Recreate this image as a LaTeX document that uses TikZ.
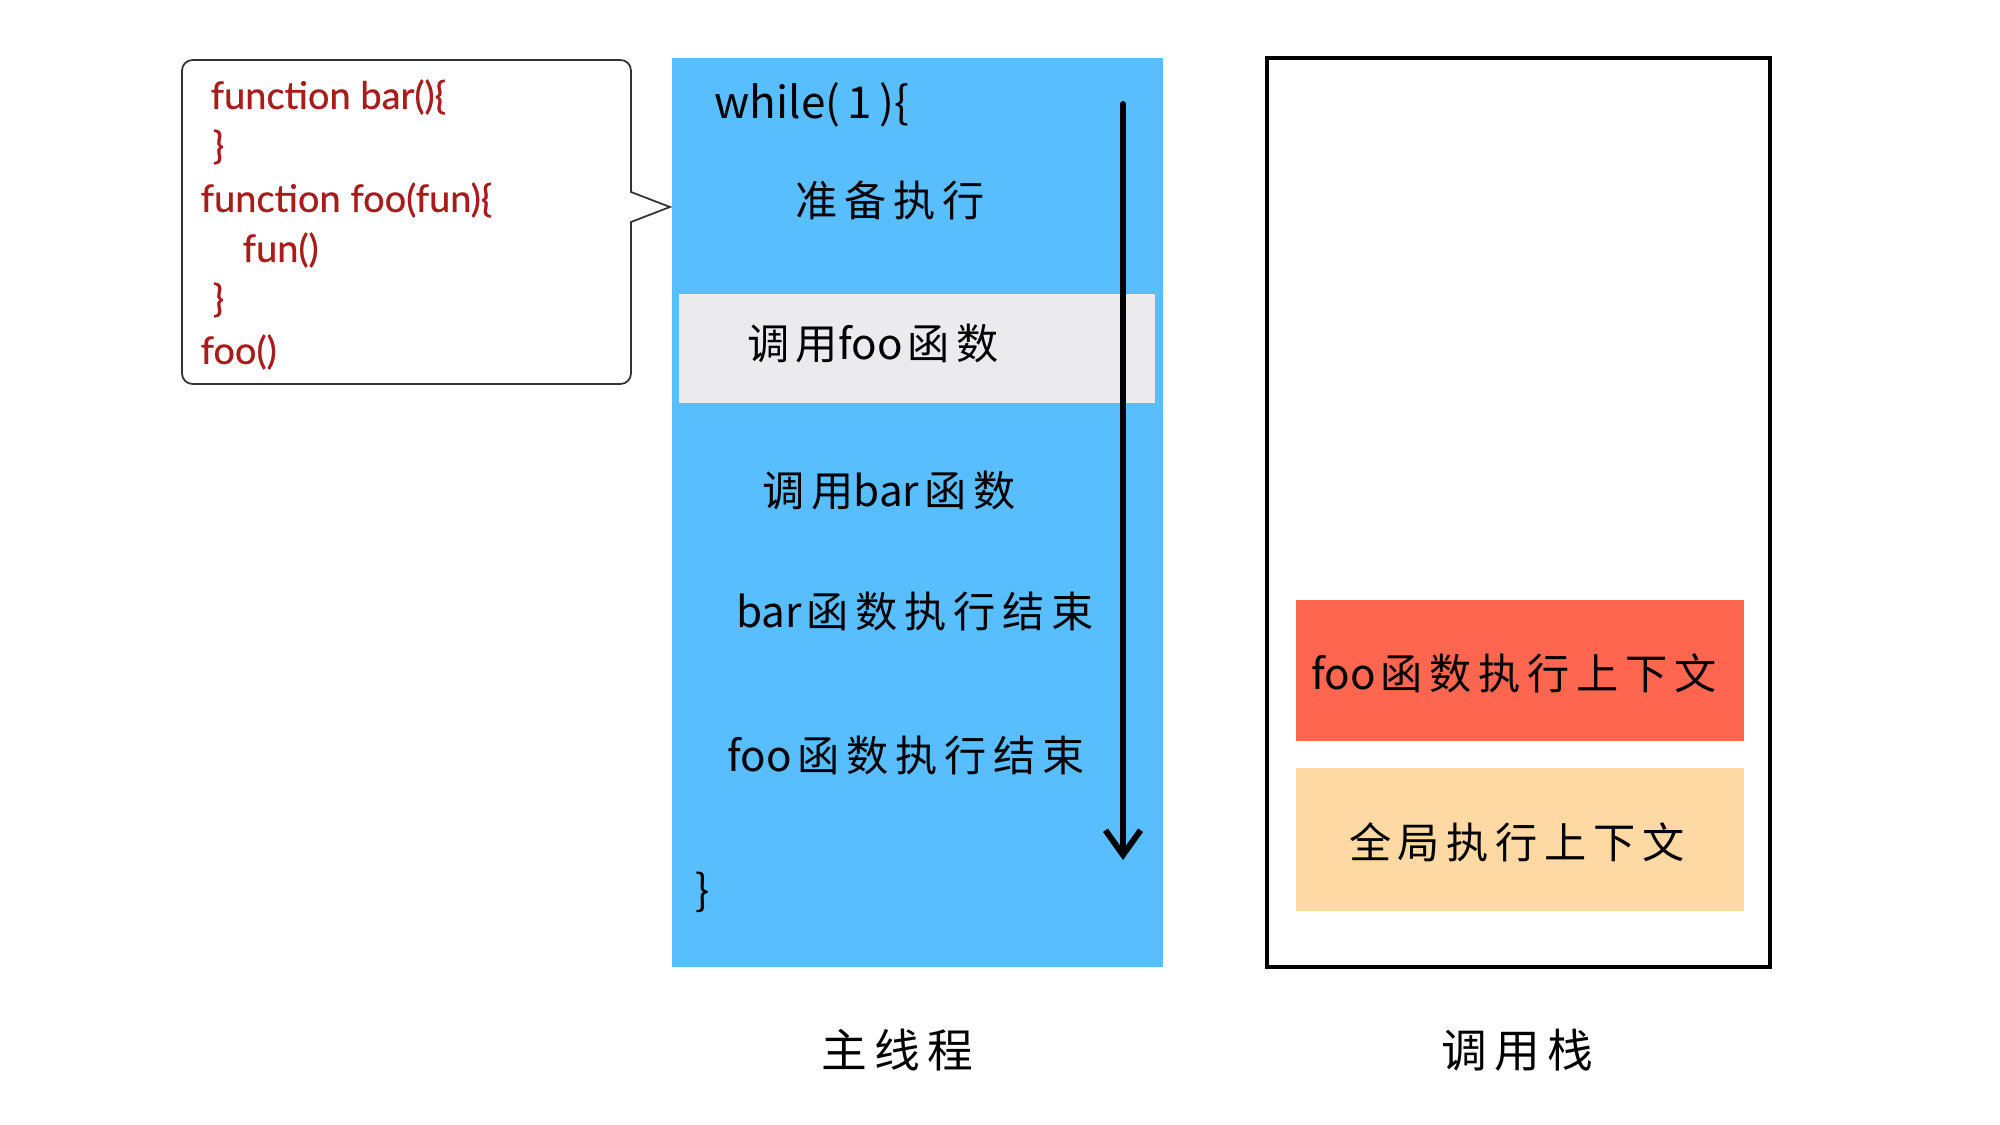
\documentclass[tikz,border=0pt]{standalone}
\usepackage{fontspec}
\usetikzlibrary{arrows.meta}
\newfontfamily\cjk[LetterSpace=16]{Noto Sans CJK SC}
\newfontfamily\cjkplain{Noto Sans CJK SC}
\newfontfamily\codefont[FakeBold=0.6]{Lato}
\newcommand\lat[1]{{\cjkplain #1}\hspace{1.5pt}}
\definecolor{threadblue}{HTML}{58BEFD}
\definecolor{bandgray}{HTML}{EBEBED}
\definecolor{ctxred}{HTML}{FF6650}
\definecolor{ctxorange}{HTML}{FFD9A3}
\definecolor{codered}{HTML}{A81C1C}
\definecolor{boxline}{HTML}{333333}
\tikzset{
  codeline/.style={anchor=west, inner sep=0pt, text=codered, font=\codefont\fontsize{10.8pt}{13pt}\selectfont},
  steplabel/.style={inner sep=0pt, font=\cjk\fontsize{12pt}{14pt}\selectfont},
  caption/.style={inner sep=0pt, font=\cjk\fontsize{13pt}{15pt}\selectfont},
  flowarrow/.style={line width=1.7pt, line cap=round, -{Straight Barb[length=7pt,width=10pt,line width=1.7pt]}}
}
\begin{document}
\begin{tikzpicture}[x=0.01cm,y=-0.01cm]
\useasboundingbox (0,0) rectangle (2000,1125);
\fill[white] (0,0) rectangle (2000,1125);
% code callout
\draw[boxline, line width=0.5pt, fill=white, rounded corners=3pt]
  (631,222) -- (631,384) -- (182,384) -- (182,60) -- (631,60) [sharp corners] -- (631,192) -- (670,207) -- cycle;
\node[codeline] (c1) at (210,97) {function bar()\{};
\node[codeline] (c2) at (212,147) {\}};
\node[codeline] (c3) at (200,200) {function foo(fun)\{};
\node[codeline] (c4) at (242,250) {fun()};
\node[codeline] (c5) at (212,300) {\}};
\node[codeline] (c6) at (200,352) {foo()};
% main thread
\fill[threadblue] (672,58) rectangle (1163,967);
\fill[bandgray] (679,294) rectangle (1155,403);
\node[steplabel, anchor=west, font=\cjkplain\fontsize{12.5pt}{14pt}\selectfont] (w) at (714,105) {while(\,1\,)\{};
\node[steplabel] (s1) at (890,200) {准备执行};
\node[steplabel] (s2) at (873,344) {调用\lat{foo}函数};
\node[steplabel] (s3) at (889,491) {调用\lat{bar}函数};
\node[steplabel] (s4) at (915,612) {\lat{bar}函数执行结束};
\node[steplabel] (s5) at (906,756) {\lat{foo}函数执行结束};
\node[steplabel] (wend) at (703,892) {\}};
\coordinate (as) at (1123,104);
\coordinate (ae) at (1123,860);
\draw[flowarrow] (as) -- (ae);
% call stack
\draw[line width=1.1pt] (1267,58) rectangle (1770,967);
\fill[ctxred] (1296,600) rectangle (1744,741);
\fill[ctxorange] (1296,768) rectangle (1744,911);
\node[steplabel] (k1) at (1514,673) {\lat{foo}函数执行上下文};
\node[steplabel] (k2) at (1517,842) {全局执行上下文};
% captions
\node[caption] (l1) at (897,1050) {主线程};
\node[caption] (l2) at (1517,1050) {调用栈};
\end{tikzpicture}
\end{document}
